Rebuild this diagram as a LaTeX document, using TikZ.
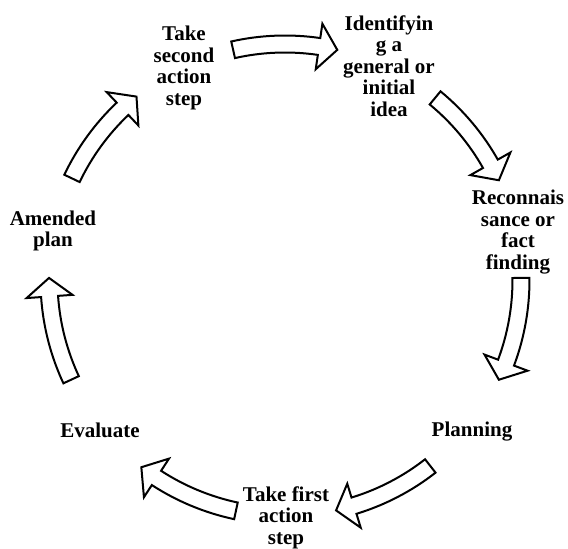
\documentclass[tikz,border=0pt]{standalone}
\usepackage{fontspec}
\setmainfont{Liberation Serif}
\begin{document}
\begin{tikzpicture}[x=1pt,y=1pt,
  stagelabel/.style={font=\bfseries\fontsize{21}{21.5}\selectfont, align=center, inner sep=0pt},
  blockarrow/.style={draw=black, fill=white, line width=2pt, line join=miter}]
\useasboundingbox (0,0) rectangle (568,549);

% stages of the cycle
\node[stagelabel] (second) at (184, 481.2) {Take\\second\\action\\step};
\node[stagelabel] (idea)   at (389, 483.2) {Identifyin\\g a\\general or\\initial\\idea};
\node[stagelabel] (recon)  at (518, 317.2) {Reconnais\\sance or\\fact\\finding};
\node[stagelabel] (plan)   at (472, 117)   {Planning};
\node[stagelabel] (first)  at (286, 31.5)  {Take first\\action\\step};
\node[stagelabel] (eval)   at (100, 119)   {Evaluate};
\node[stagelabel] (amend)  at (53, 318.2)  {Amended\\plan};

% curved block arrows running clockwise round the hub
\coordinate (hub) at (285,269);
\begin{scope}[shift={(hub)}]
  \foreach \t in {102.7, 50.5, 0.5, -52, -102, -155, 154.5} {
    \pgfmathsetmacro\b{\t-21}
    \pgfmathsetmacro\p{\t-25.5}
    \draw[blockarrow] (\t:244.5) arc[start angle=\t, end angle=\b, radius=244.5]
      -- (\b:259) -- (\p:236) -- (\b:213) -- (\b:227.5)
      arc[start angle=\b, end angle=\t, radius=227.5] -- cycle;
  }
\end{scope}
\end{tikzpicture}
\end{document}
